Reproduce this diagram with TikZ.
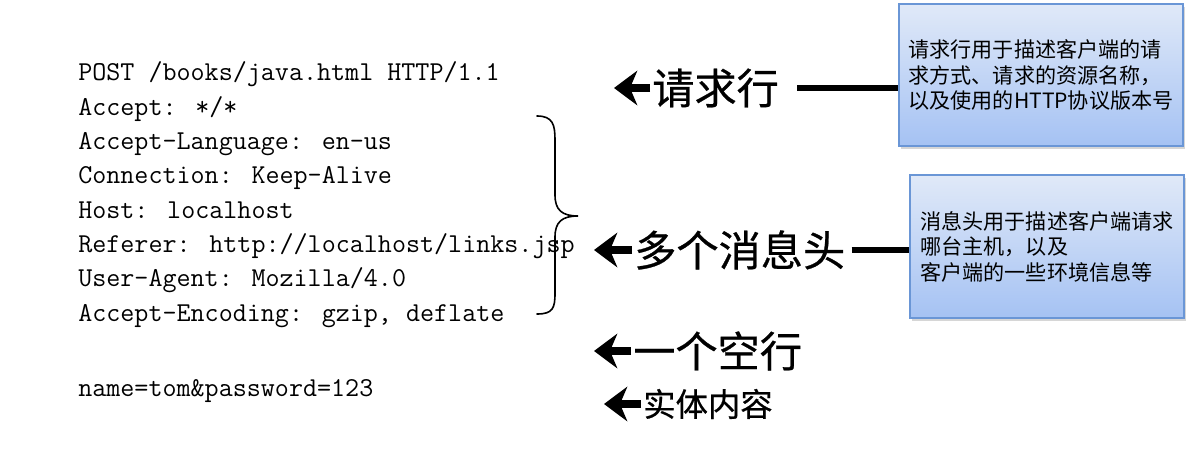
\documentclass[tikz,border=0pt]{standalone}
\usepackage{fontspec}
\usepackage{xcolor}
\usetikzlibrary{arrows.meta, positioning, shadows}
\newfontfamily\codefont{Latin Modern Mono}
\newfontfamily\cjkfont{Noto Sans CJK SC}
\newfontfamily\cjkheavy[FakeBold=0.6]{Noto Sans CJK SC}
\definecolor{Box_Edge}{HTML}{6A96D6}
\definecolor{Box_Top}{HTML}{E0E9F8}
\definecolor{Box_Bottom}{HTML}{A5C2F3}

\tikzset{
    codeline/.style={anchor=base west, inner sep=0pt, font=\codefont\fontsize{19.4pt}{24pt}\selectfont},
    lbl/.style={anchor=west, inner sep=0.05cm, font=\cjkheavy\fontsize{30pt}{34pt}\selectfont},
    lblsmall/.style={lbl, font=\cjkheavy\fontsize{23pt}{27pt}\selectfont},
    blockarrow/.style={line width=0.21cm, -{Stealth[length=0.58cm, width=0.86cm, inset=0.18cm]}},
    linkline/.style={line width=0.17cm},
    bracestroke/.style={line width=0.04cm, line cap=round},
    infobox/.style={draw=Box_Edge, line width=0.8pt, top color=Box_Top, bottom color=Box_Bottom,
        drop shadow={shadow xshift=0.05cm, shadow yshift=-0.08cm, fill=black!40, opacity=0.4},
        align=left, inner sep=0pt, font=\cjkfont\fontsize{15pt}{18.1pt}\selectfont}
}

\begin{document}
\begin{tikzpicture}[x=0.025cm, y=-0.025cm]
    \useasboundingbox (0,0) rectangle (1199,453);

    % === request text, one node per line ===
    \foreach \txt [count=\i] in {POST /books/java.html HTTP/1.1, Accept: */*,
        Accept-Language: en-us, Connection: Keep-Alive, Host: localhost,
        Referer: http://localhost/links.jsp, User-Agent: Mozilla/4.0,
        {Accept-Encoding: gzip, deflate}}
        \node[codeline] (hdr\i) at (78, {81+34.3*(\i-1)}) {\txt};
    \node[codeline] (body) at (78,396) {name=tom\&password=123};

    % === brace round the headers ===
    \draw[bracestroke] (537,116) .. controls (553,116) and (555,125) .. (555,140) -- (555,195)
        .. controls (555,210) and (562,216) .. (578,216)
        .. controls (562,216) and (555,222) .. (555,237) -- (555,293)
        .. controls (555,308) and (553,314) .. (537,314);

    % === labels with block arrows ===
    \node[lbl] (lblreq) at (650,88) {请求行};
    \node[lbl] (lblhdr) at (632,250) {多个消息头};
    \node[lbl] (lblblank) at (631,351) {一个空行};
    \node[lblsmall] (lblbody) at (641,404) {实体内容};

    \coordinate (tipreq) at (614,88);
    \coordinate (tiphdr) at (594,250);
    \coordinate (tipblank) at (594,351);
    \coordinate (tipbody) at (604,404);
    \draw[blockarrow] (lblreq.west) -- (tipreq);
    \draw[blockarrow] (lblhdr.west) -- (tiphdr);
    \draw[blockarrow] (lblblank.west) -- (tipblank);
    \draw[blockarrow] (lblbody.west) -- (tipbody);

    % === explanation boxes ===
    \node[infobox, minimum width=7.1cm, minimum height=3.55cm] (boxreq) at (1041,75)
        {请求行用于描述客户端的请\\求方式、请求的资源名称，\\以及使用的HTTP协议版本号};
    \node[infobox, minimum width=6.85cm, minimum height=3.575cm] (boxhdr) at (1047,246.5)
        {消息头用于描述客户端请求\\哪台主机，以及\\客户端的一些环境信息等};

    \draw[linkline] ([xshift=0.4cm]lblreq.east) -- (lblreq.east -| boxreq.west);
    \draw[linkline] ([xshift=0.1cm]lblhdr.east) -- (lblhdr.east -| boxhdr.west);

\end{tikzpicture}
\end{document}
